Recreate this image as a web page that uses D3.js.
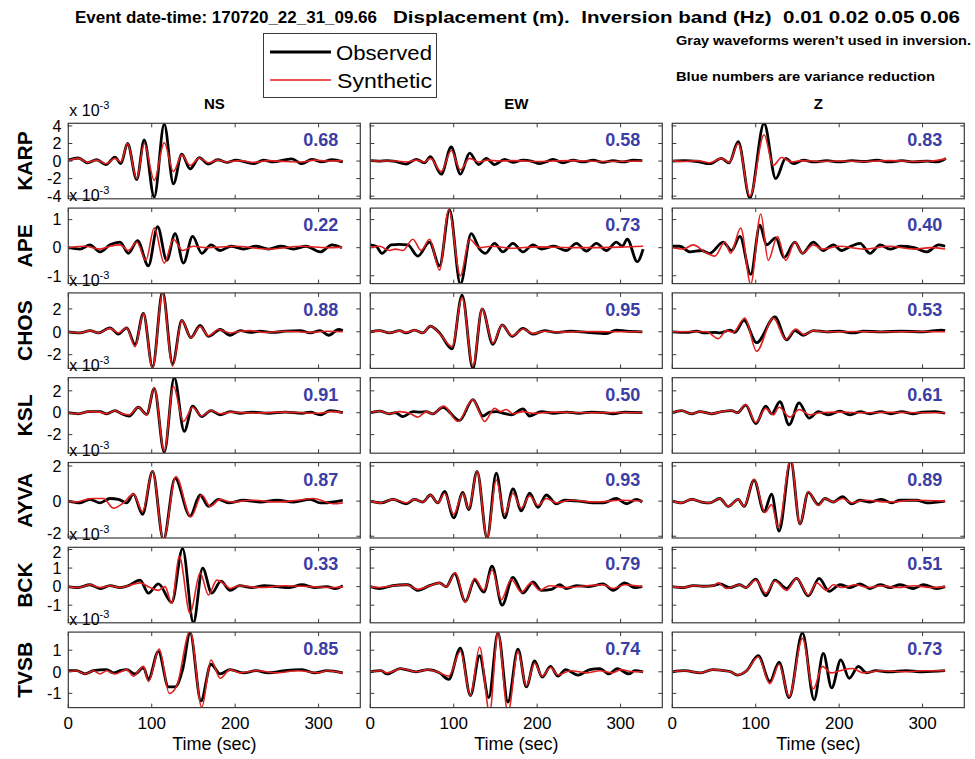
<!DOCTYPE html>
<html><head><meta charset="utf-8">
<script src="https://cdn.jsdelivr.net/npm/d3@7"></script>
<style>
body{margin:0;background:#fff}
svg{display:block}
text{font-family:"Liberation Sans",Arial,Helvetica,sans-serif}
</style>
</head><body>
<svg id="chart" width="975" height="759"></svg>
<script>
// ---------------- DATA ----------------
const stations = ["KARP","APE","CHOS","KSL","AYVA","BCK","TVSB"];
const components = ["NS","EW","Z"];
const varianceReduction = [
  [0.68,0.58,0.83],[0.22,0.73,0.40],[0.88,0.95,0.53],[0.91,0.50,0.61],
  [0.87,0.93,0.89],[0.33,0.79,0.51],[0.85,0.74,0.73]
];
const yDomains = [[-4.3,4.3],[-1.28,1.41],[-3.2,3.4],[-3.7,3.2],[-2.1,2.2],[-1.95,2.12],[-1.66,1.84]];
const yTicks = [[-4,-2,0,2,4],[-1,0,1],[-2,0,2],[-2,0,2],[-2,0,2],[-1,0,1,2],[-1,0,1]];
const xDomain = [0,350];
const xTicks = [0,100,200,300];

// time (s), displacement (x 10^-3 m)
const KARP_NS_obs=[[0,0.1],[12,0.35],[23,-0.2],[34,0.15],[45,-0.4],[56,0.45],[63,-0.3],[71,2.0],[82,-2.1],[91,2.4],[103,-4.1],[115,4.2],[126,-2.6],[136,0.8],[146,-0.9],[157,0.4],[168,-0.35],[179,0.15],[190,-0.15],[201,0.1],[212,-0.1],[222,-0.3],[234,0.1],[246,-0.1],[258,0.1],[268,0.25],[280,-0.3],[292,0.2],[304,-0.1],[316,0.15],[329,-0.1]];
const KARP_NS_syn=[[0,0.05],[12,0.3],[23,-0.15],[34,0.1],[45,-0.3],[56,0.3],[63,-0.1],[71,2.0],[82,-2.0],[91,2.0],[103,-2.2],[115,2.1],[126,-1.2],[136,0.7],[146,-0.5],[157,0.35],[168,-0.2],[179,0.1],[190,-0.1],[205,0.05],[222,-0.15],[240,0.05],[260,-0.05],[280,-0.1],[295,0.1],[310,0],[329,0.05]];
const KARP_EW_obs=[[0,0.05],[10,0],[20,0.05],[30,-0.05],[43,-0.35],[55,0.2],[65,-0.2],[72,0.5],[85,-1.5],[97,1.6],[108,-1.5],[119,0.9],[130,-0.4],[139,0.3],[149,-0.4],[161,0.2],[171,-0.15],[183,0.1],[193,0],[203,-0.3],[213,0],[219,0.2],[231,-0.2],[243,0.1],[255,-0.1],[267,0.1],[279,-0.15],[291,0.05],[303,-0.1],[315,0.1],[326,0.05]];
const KARP_EW_syn=[[0,0],[30,0],[43,-0.1],[55,0.1],[65,-0.1],[72,0.3],[85,-1.2],[97,1.2],[108,-1.0],[119,0.3],[130,-0.1],[140,0.1],[155,0],[170,0.05],[200,-0.05],[240,0.05],[280,-0.05],[326,0]];
const KARP_Z_obs=[[0,0],[15,0.05],[30,-0.05],[45,-0.3],[59,0.3],[68,-0.2],[79,2.2],[93,-4.2],[110,4.3],[124,-2.0],[136,0.3],[145,-0.3],[157,0.1],[170,-0.1],[185,0.05],[200,-0.1],[215,0.05],[230,-0.05],[245,0.1],[260,-0.1],[275,0.05],[290,-0.1],[305,0],[318,-0.1],[328,0.3]];
const KARP_Z_syn=[[0,0.05],[15,-0.05],[30,0.05],[45,-0.2],[59,0.3],[68,-0.15],[79,2.0],[93,-4.0],[110,3.0],[121,-0.5],[131,0.4],[143,-0.1],[155,0.05],[175,-0.05],[200,0],[230,-0.05],[260,0.05],[290,-0.05],[310,0],[328,0.25]];

const APE_NS_obs=[[0,0],[14,-0.05],[26,0.1],[38,-0.15],[50,0.1],[62,0.2],[72,-0.2],[83,0.25],[96,-0.65],[107,0.75],[118,-0.45],[128,0.5],[138,-0.55],[149,0.4],[160,-0.2],[171,0.1],[182,-0.1],[195,0.05],[210,-0.05],[225,0.05],[240,-0.05],[255,0.05],[270,-0.05],[285,0.05],[302,-0.15],[316,0.1],[328,0]];
const APE_NS_syn=[[0,0],[20,0.05],[38,-0.05],[50,0.05],[62,0.1],[72,-0.1],[82,0.2],[93,-0.45],[103,0.7],[115,-0.55],[126,0.3],[137,-0.1],[150,0.05],[165,0],[200,0.05],[240,-0.05],[280,0.05],[310,0],[328,0.02]];
const APE_EW_obs=[[0,0.1],[7,0.05],[14,-0.2],[25,0.1],[35,0.12],[45,0.1],[57,-0.3],[71,0.2],[83,-0.65],[95,1.35],[108,-1.3],[121,0.5],[131,-0.05],[138,-0.2],[149,0.15],[159,-0.15],[171,0.15],[183,-0.15],[195,0.1],[205,-0.05],[220,0.05],[235,-0.1],[247,0.15],[259,-0.12],[271,0.15],[283,-0.1],[295,0.2],[302,0.05],[308,0.3],[320,-0.5],[327,-0.05]];
const APE_EW_syn=[[0,0],[11,0.05],[23,-0.1],[30,-0.05],[39,-0.1],[51,0.3],[61,-0.1],[71,0.3],[83,-0.8],[94,1.35],[108,-1.0],[119,0.3],[131,0],[145,0.05],[170,-0.02],[200,0.03],[250,0],[300,0.02],[327,0.05]];
const APE_Z_obs=[[0,0.05],[9,0.05],[21,-0.15],[35,-0.1],[45,-0.2],[61,0.2],[71,-0.1],[81,0.4],[94,-0.95],[105,0.8],[113,0.1],[124,0.35],[134,-0.35],[147,0.2],[156,-0.2],[169,0.2],[181,-0.1],[193,0.1],[203,-0.1],[214,0.05],[225,0.15],[237,-0.2],[249,0.1],[261,-0.05],[273,0.05],[290,0],[305,-0.15],[319,0.1],[327,0.05]];
const APE_Z_syn=[[0,0],[13,-0.05],[25,0.1],[39,-0.15],[51,-0.3],[63,0.2],[70,-0.2],[82,0.7],[94,-1.3],[106,1.2],[115,-0.45],[126,0.4],[136,-0.45],[147,0.2],[156,-0.2],[169,0.1],[180,-0.05],[200,0.05],[230,-0.05],[260,0.05],[290,-0.05],[310,0],[327,-0.05]];

const CHOS_NS_obs=[[0,0],[14,-0.1],[26,0.1],[36,-0.1],[50,0.35],[60,-0.2],[70,0.35],[80,-1.1],[90,1.6],[101,-3.1],[113,3.5],[125,-2.8],[136,1.0],[147,-0.5],[158,0.55],[168,-0.4],[182,0.2],[194,-0.3],[206,0.1],[218,-0.05],[230,0.05],[245,-0.05],[260,0.05],[278,0.1],[290,-0.1],[302,0.1],[312,-0.3],[324,0.2],[329,0.1]];
const CHOS_NS_syn=[[0,0],[14,-0.1],[26,0.1],[36,-0.1],[50,0.3],[60,-0.1],[70,0.35],[80,-1.3],[90,1.6],[101,-3.2],[113,3.4],[125,-3.0],[136,1.0],[147,-0.5],[158,0.45],[168,-0.35],[180,0.2],[194,-0.1],[206,0.05],[218,0.1],[235,-0.05],[260,0.05],[290,-0.05],[310,0.05],[329,0]];
const CHOS_EW_obs=[[0,0],[11,0.1],[23,-0.1],[35,0.1],[43,-0.1],[53,0.15],[63,-0.1],[72,0.5],[83,-0.1],[98,-1.5],[110,3.2],[123,-3.2],[134,2.0],[147,-1.1],[158,0.6],[170,-0.4],[183,0.3],[195,-0.2],[209,0.1],[222,-0.05],[240,0.05],[260,-0.05],[283,-0.15],[295,0.15],[307,0.05],[326,0]];
const CHOS_EW_syn=[[0,0],[11,0.08],[23,-0.08],[35,0.08],[43,-0.05],[53,0.15],[63,-0.1],[72,0.5],[83,-0.15],[98,-1.3],[110,3.0],[123,-3.0],[134,2.0],[147,-1.0],[158,0.6],[170,-0.35],[183,0.25],[195,-0.15],[209,0.05],[230,-0.03],[260,0.03],[290,0],[326,0]];
const CHOS_Z_obs=[[0,0],[17,-0.05],[29,0.05],[39,-0.1],[51,-0.05],[57,-0.1],[69,0.15],[75,-0.05],[86,1.0],[101,-0.95],[123,1.3],[137,-0.7],[147,0.1],[157,-0.3],[169,0.1],[185,0],[200,0.05],[217,-0.1],[229,0.05],[250,0],[275,0.05],[300,0],[323,0.15],[327,0.1]];
const CHOS_Z_syn=[[0,0],[30,0.02],[41,0],[55,-0.6],[65,0.1],[73,-0.05],[87,1.2],[101,-1.7],[121,1.2],[136,-0.65],[148,0.25],[158,-0.25],[169,0.1],[185,0],[220,0.02],[260,0],[300,0.02],[327,0]];

const KSL_NS_obs=[[0,0],[12,-0.1],[24,0.1],[38,0.1],[46,-0.1],[56,0.2],[64,-0.1],[73,-0.3],[84,0.5],[94,-0.15],[103,2.2],[115,-3.6],[127,3.2],[139,-1.7],[149,0.6],[160,-0.35],[171,0.2],[182,-0.2],[194,0.1],[206,-0.05],[220,0.05],[240,-0.05],[260,0.05],[280,-0.05],[290,0.05],[302,-0.2],[314,0.2],[329,0]];
const KSL_NS_syn=[[0,0],[12,-0.1],[24,0.1],[38,0.05],[46,-0.1],[56,0.2],[64,-0.1],[73,-0.2],[84,0.5],[94,-0.2],[103,2.3],[115,-3.5],[126,2.4],[138,-0.8],[149,0.5],[160,-0.3],[171,0.2],[182,-0.1],[195,0.05],[220,-0.03],[260,0.05],[300,-0.05],[315,0.1],[329,0]];
const KSL_EW_obs=[[0,0],[11,0.15],[23,-0.1],[30,0],[39,-0.35],[51,0.1],[60,0.05],[67,0.1],[75,-0.1],[87,0.5],[107,-0.7],[123,1.2],[135,-0.3],[143,0.05],[151,0.1],[160,-0.05],[169,-0.2],[183,0.35],[191,-0.3],[205,0.1],[220,-0.05],[235,0.05],[250,-0.05],[265,0.05],[280,0],[291,-0.1],[305,0.05],[326,0]];
const KSL_EW_syn=[[0,0],[11,0.15],[23,-0.1],[35,0.1],[47,-0.05],[57,-0.4],[67,0.1],[75,-0.1],[88,0.6],[105,-0.8],[123,1.2],[137,-0.8],[149,0.4],[156,0.1],[163,0.3],[171,-0.1],[183,0.1],[195,-0.05],[220,0.05],[260,0],[300,0.02],[326,0]];
const KSL_Z_obs=[[0,0],[11,0.2],[23,-0.1],[33,0.1],[47,-0.1],[59,0.1],[71,0.2],[78,0.0],[88,0.7],[100,-1.0],[112,0.6],[119,-0.1],[129,1.0],[140,-1.1],[152,0.9],[164,-0.5],[175,0.1],[187,-0.2],[201,0.15],[213,-0.2],[225,0.1],[237,-0.1],[250,0.1],[262,-0.1],[275,0.1],[288,-0.1],[300,0.05],[315,0.1],[327,-0.05]];
const KSL_Z_syn=[[0,0],[11,0.2],[23,-0.1],[33,0.1],[47,-0.1],[59,0.1],[71,0.2],[78,0.0],[88,0.75],[100,-0.9],[112,0.4],[121,-0.2],[128,0.5],[141,-0.4],[152,0.3],[165,-0.2],[177,0],[200,0.05],[230,0],[260,0.03],[300,0],[327,0]];

const AYVA_NS_obs=[[0,0],[14,-0.1],[26,0.1],[38,-0.1],[50,0.15],[60,0.1],[70,-0.1],[78,0.4],[89,-0.75],[101,1.7],[114,-2.2],[128,1.3],[146,-0.85],[158,0.35],[168,-0.3],[180,0.1],[192,-0.1],[210,0.05],[230,-0.05],[250,0.05],[270,-0.05],[290,0.1],[302,-0.1],[318,-0.05],[329,0.05]];
const AYVA_NS_syn=[[0,0],[10,-0.05],[22,0.1],[28,0.15],[42,0.15],[54,-0.4],[66,-0.1],[78,0.4],[89,-0.6],[101,1.7],[114,-2.2],[129,1.4],[147,-0.9],[160,0.35],[170,-0.3],[182,0.1],[195,-0.05],[220,0.05],[250,-0.05],[275,0.05],[294,0.15],[318,-0.15],[329,-0.1]];
const AYVA_EW_obs=[[0,0],[13,-0.1],[27,0.1],[43,-0.15],[53,0.1],[63,-0.05],[72,0.35],[81,-0.1],[89,0.55],[100,-0.95],[111,0.5],[118,-0.5],[128,1.7],[140,-2.1],[151,1.6],[161,-0.95],[171,0.7],[181,-0.55],[191,0.45],[201,-0.35],[211,0.35],[223,-0.15],[233,0.05],[250,0],[267,-0.1],[279,-0.1],[295,0.15],[307,-0.15],[319,0.1],[326,-0.05]];
const AYVA_EW_syn=[[0,0],[13,-0.1],[27,0.1],[43,-0.1],[53,0.1],[63,-0.05],[72,0.35],[81,-0.1],[89,0.45],[100,-0.75],[111,0.45],[118,-0.45],[128,1.7],[140,-2.1],[151,1.2],[161,-0.75],[171,0.45],[181,-0.4],[191,0.3],[201,-0.25],[211,0.15],[223,-0.1],[240,0.05],[270,-0.05],[300,0.05],[326,0]];
const AYVA_Z_obs=[[0,0],[11,-0.1],[23,0.1],[35,-0.05],[45,-0.1],[57,0.15],[67,-0.3],[79,0.1],[86,-0.3],[98,1.2],[110,-0.6],[119,0.4],[128,-1.7],[142,2.3],[153,-1.3],[163,0.5],[175,-0.2],[183,0.15],[193,-0.05],[204,0.25],[215,-0.15],[225,0.05],[237,-0.05],[251,0.1],[263,-0.1],[273,0.05],[293,0.05],[305,-0.1],[327,0]];
const AYVA_Z_syn=[[0,0],[11,-0.1],[23,0.1],[35,-0.05],[45,-0.1],[57,0.15],[67,-0.3],[79,0.1],[86,-0.3],[98,1.25],[111,-0.65],[119,-0.2],[127,-1.5],[142,2.4],[153,-1.3],[163,0.55],[175,-0.25],[183,0.15],[193,-0.05],[204,0.15],[215,-0.1],[230,0.05],[260,-0.05],[290,0.05],[327,0]];

const BCK_NS_obs=[[0,0],[12,-0.05],[26,0.1],[38,-0.1],[50,0.05],[62,-0.05],[72,0.05],[86,0.35],[96,-0.35],[108,0.15],[124,-0.85],[137,2.05],[150,-1.95],[161,1.0],[172,-0.35],[183,0.3],[194,-0.2],[205,0.05],[220,-0.05],[235,0.05],[250,0],[265,-0.05],[280,0.1],[295,-0.05],[310,0],[320,-0.1],[329,0.05]];
const BCK_NS_syn=[[0,0],[12,-0.05],[26,0.1],[38,-0.05],[50,0.05],[62,-0.05],[72,0.05],[86,0.2],[98,-0.05],[108,-0.2],[116,0.0],[124,-0.9],[133,1.65],[146,-1.45],[158,0.75],[168,-0.45],[178,0.35],[188,0.1],[194,-0.1],[205,0.05],[230,-0.05],[260,0.05],[290,0],[320,-0.05],[329,0]];
const BCK_EW_obs=[[0,0],[11,-0.1],[27,0.05],[41,0.1],[45,0.1],[57,-0.2],[71,0.05],[83,0.2],[91,0],[101,0.7],[114,-0.8],[125,0.35],[136,-0.3],[146,1.1],[158,-1.0],[171,0.5],[183,-0.35],[195,0.25],[205,-0.2],[217,-0.15],[227,0.1],[235,-0.1],[247,0.05],[262,0],[279,0.15],[291,-0.2],[305,0.2],[317,-0.05],[326,0]];
const BCK_EW_syn=[[0,0],[11,-0.05],[27,0.05],[43,0.1],[57,-0.15],[71,0.05],[83,0.2],[91,0],[102,0.75],[114,-0.85],[125,0.45],[136,-0.2],[146,0.9],[157,-0.7],[169,0.4],[181,-0.3],[193,0.2],[203,-0.2],[215,0.05],[235,-0.05],[260,0.05],[279,0.1],[291,-0.1],[305,0.1],[326,0]];
const BCK_Z_obs=[[0,0],[13,-0.05],[25,0.05],[37,0.02],[49,0.05],[57,0.15],[69,-0.05],[81,0.1],[88,-0.05],[100,0.4],[112,-0.5],[123,0.35],[137,-0.1],[149,0.45],[163,-0.5],[176,0.45],[188,-0.25],[201,0.1],[213,-0.05],[225,0.15],[237,-0.1],[249,0.1],[261,-0.05],[273,0.1],[289,-0.1],[301,0.1],[317,-0.1],[327,0]];
const BCK_Z_syn=[[0,0],[13,-0.05],[25,0.05],[37,0.02],[49,0.05],[55,0.2],[65,-0.1],[81,0.1],[88,-0.05],[100,0.35],[112,-0.35],[123,0.3],[137,-0.2],[149,0.45],[163,-0.45],[173,0.2],[185,-0.2],[193,0.1],[203,-0.05],[220,0.1],[235,-0.05],[250,0.05],[270,-0.05],[290,0.05],[310,-0.05],[327,0]];

const TVSB_NS_obs=[[0,0.05],[10,0.05],[20,-0.1],[30,0.05],[46,0.1],[54,-0.05],[62,0.05],[70,0.1],[80,-0.1],[90,0.2],[96,-0.35],[108,0.95],[120,-0.7],[128,-0.7],[137,0.1],[146,1.8],[159,-1.35],[171,0.35],[182,-0.1],[194,0.1],[210,-0.05],[225,0.05],[240,-0.05],[260,0.05],[280,0.1],[295,-0.05],[310,0.05],[329,-0.05]];
const TVSB_NS_syn=[[0,0],[10,0.05],[20,-0.1],[30,0.05],[38,-0.1],[46,0.05],[56,-0.1],[66,0.05],[70,0.1],[78,-0.2],[90,0.25],[96,-0.45],[109,1.05],[121,-1.0],[130,-0.65],[146,1.9],[160,-1.65],[171,0.55],[182,-0.3],[194,0.1],[206,-0.05],[225,0.05],[250,-0.05],[275,0.05],[300,-0.05],[310,0.05],[329,-0.05]];
const TVSB_EW_obs=[[0,0],[13,0.05],[20,-0.1],[36,0.15],[55,0],[69,0.1],[83,-0.05],[94,-0.35],[108,1.1],[120,-1.1],[131,0.75],[142,-1.2],[153,1.8],[165,-1.4],[177,1.05],[187,-0.7],[197,0.5],[206,-0.25],[216,0.25],[225,-0.2],[234,0.1],[249,-0.15],[263,0.1],[275,0.15],[286,-0.1],[296,0.15],[310,-0.1],[317,0.05],[327,0]];
const TVSB_EW_syn=[[0,0],[13,0.05],[20,-0.05],[38,0.15],[55,0],[69,0.1],[80,0],[94,-0.2],[108,0.95],[120,-1.1],[131,1.15],[143,-1.9],[153,1.85],[165,-1.9],[177,0.95],[187,-0.65],[197,0.4],[206,-0.2],[216,0.2],[225,-0.15],[240,0.05],[260,-0.05],[275,0.05],[290,-0.05],[300,0.1],[315,0],[327,0]];
const TVSB_Z_obs=[[0,0],[15,0.05],[34,-0.05],[48,0.1],[62,0.05],[70,0],[78,-0.15],[89,0.05],[103,0.75],[117,-0.45],[128,0.45],[140,-1.2],[156,1.8],[170,-1.3],[181,0.85],[191,-0.75],[202,0.55],[212,-0.3],[223,0.25],[233,-0.05],[244,0.05],[260,0],[280,0.05],[300,0],[327,0.05]];
const TVSB_Z_syn=[[0,0],[15,0.05],[34,-0.05],[48,0.1],[62,0.05],[70,0],[78,-0.15],[89,0.05],[103,0.7],[117,-0.55],[128,0.35],[140,-1.15],[156,1.55],[169,-0.8],[180,0.25],[190,-0.05],[201,0.05],[216,0.15],[229,-0.05],[250,0.05],[280,0],[300,0.05],[327,0.05]];

const observed = [
  [KARP_NS_obs,KARP_EW_obs,KARP_Z_obs],[APE_NS_obs,APE_EW_obs,APE_Z_obs],[CHOS_NS_obs,CHOS_EW_obs,CHOS_Z_obs],
  [KSL_NS_obs,KSL_EW_obs,KSL_Z_obs],[AYVA_NS_obs,AYVA_EW_obs,AYVA_Z_obs],[BCK_NS_obs,BCK_EW_obs,BCK_Z_obs],[TVSB_NS_obs,TVSB_EW_obs,TVSB_Z_obs]
];
const synthetic = [
  [KARP_NS_syn,KARP_EW_syn,KARP_Z_syn],[APE_NS_syn,APE_EW_syn,APE_Z_syn],[CHOS_NS_syn,CHOS_EW_syn,CHOS_Z_syn],
  [KSL_NS_syn,KSL_EW_syn,KSL_Z_syn],[AYVA_NS_syn,AYVA_EW_syn,AYVA_Z_syn],[BCK_NS_syn,BCK_EW_syn,BCK_Z_syn],[TVSB_NS_syn,TVSB_EW_syn,TVSB_Z_syn]
];

// ---------------- LAYOUT ----------------
const colLeft0=68.3, colPitch=302, colW=292;
const rowTop0=123.3, rowPitch=84.8, rowH=75.5;
const BLUE="#3b3ea6", RED="#e2201f", FRAME="#3a3a3a";

const svg=d3.select("#chart");
const defs=svg.append("defs");

// titles
svg.append("text").attr("x",75).attr("y",23).attr("font-size",16).attr("font-weight","bold")
  .attr("textLength",302).attr("lengthAdjust","spacingAndGlyphs").text("Event date-time: 170720_22_31_09.66");
svg.append("text").attr("x",393).attr("y",23).attr("font-size",16).attr("font-weight","bold")
  .attr("textLength",567).attr("lengthAdjust","spacingAndGlyphs").attr("xml:space","preserve")
  .text("Displacement (m).  Inversion band (Hz)  0.01 0.02 0.05 0.06");
svg.append("text").attr("x",676).attr("y",45).attr("font-size",12.5).attr("font-weight","bold")
  .attr("textLength",295).attr("lengthAdjust","spacingAndGlyphs").text("Gray waveforms weren’t used in inversion.");
svg.append("text").attr("x",676).attr("y",81).attr("font-size",12.5).attr("font-weight","bold")
  .attr("textLength",259).attr("lengthAdjust","spacingAndGlyphs").text("Blue numbers are variance reduction");

// legend
const lg=svg.append("g");
lg.append("rect").attr("x",263.5).attr("y",33.5).attr("width",173).attr("height",64).attr("fill","#fff").attr("stroke",FRAME).attr("stroke-width",1);
lg.append("line").attr("x1",270).attr("x2",331).attr("y1",52).attr("y2",52).attr("stroke","#000").attr("stroke-width",2.8);
lg.append("line").attr("x1",270).attr("x2",331).attr("y1",80).attr("y2",80).attr("stroke",RED).attr("stroke-width",1.6);
lg.append("text").attr("x",336).attr("y",60).attr("font-size",21).attr("textLength",96).attr("lengthAdjust","spacingAndGlyphs").text("Observed");
lg.append("text").attr("x",337).attr("y",88).attr("font-size",21).attr("textLength",95).attr("lengthAdjust","spacingAndGlyphs").text("Synthetic");

// column titles
components.forEach((c,j)=>{
  svg.append("text").attr("x",colLeft0+j*colPitch+colW/2).attr("y",109).attr("text-anchor","middle")
    .attr("font-size",15).attr("font-weight","bold").text(c);
});

stations.forEach((st,i)=>{
  const top=rowTop0+i*rowPitch, bot=top+rowH;
  const y=d3.scaleLinear().domain(yDomains[i]).range([bot,top]);
  svg.append("text").attr("transform",`translate(32,${top+rowH/2}) rotate(-90)`).attr("text-anchor","middle")
    .attr("font-size",21).attr("font-weight","bold").text(st);
  const ex=svg.append("text").attr("x",colLeft0+1).attr("y",top-7).attr("font-size",16);
  ex.append("tspan").text("x 10");
  ex.append("tspan").attr("dy",-7).attr("font-size",11).text("-3");

  components.forEach((c,j)=>{
    const left=colLeft0+j*colPitch, right=left+colW;
    const x=d3.scaleLinear().domain(xDomain).range([left,right]);
    const g=svg.append("g");
    const cid=`clip${i}_${j}`;
    defs.append("clipPath").attr("id",cid).append("rect").attr("x",left).attr("y",top).attr("width",colW).attr("height",rowH);
    g.append("rect").attr("x",left).attr("y",top).attr("width",colW).attr("height",rowH).attr("fill","#fff");
    yTicks[i].forEach(v=>{
      const yy=y(v);
      g.append("line").attr("x1",left).attr("x2",left+4).attr("y1",yy).attr("y2",yy).attr("stroke",FRAME);
      g.append("line").attr("x1",right-4).attr("x2",right).attr("y1",yy).attr("y2",yy).attr("stroke",FRAME);
    });
    xTicks.forEach(t=>{
      const xx=x(t);
      g.append("line").attr("x1",xx).attr("x2",xx).attr("y1",bot).attr("y2",bot-4).attr("stroke",FRAME);
      g.append("line").attr("x1",xx).attr("x2",xx).attr("y1",top).attr("y2",top+4).attr("stroke",FRAME);
    });
    const line=d3.line().x(d=>x(d[0])).y(d=>y(d[1])).curve(d3.curveMonotoneX);
    const lines=g.append("g").attr("clip-path",`url(#${cid})`);
    lines.append("path").attr("d",line(observed[i][j])).attr("fill","none").attr("stroke","#000")
      .attr("stroke-width",2.8).attr("stroke-linejoin","round");
    lines.append("path").attr("d",line(synthetic[i][j])).attr("fill","none").attr("stroke",RED)
      .attr("stroke-width",1.6).attr("stroke-linejoin","round");
    g.append("rect").attr("x",left).attr("y",top).attr("width",colW).attr("height",rowH)
      .attr("fill","none").attr("stroke",FRAME).attr("stroke-width",1.2);
    g.append("text").attr("x",right-22).attr("y",top+23).attr("text-anchor","end").attr("font-size",18)
      .attr("font-weight","bold").attr("fill",BLUE).text(varianceReduction[i][j].toFixed(2));
    if(j===0){
      const dom=yDomains[i];
      yTicks[i].forEach(v=>{
        // nudge labels that sit at the very edge of a panel so neighbouring rows don't collide
        let yy=y(v);
        if(v===yTicks[i][0] && Math.abs(v-dom[0])<0.15) yy-=3;
        if(v===yTicks[i][yTicks[i].length-1] && Math.abs(dom[1]-v)<0.15) yy+=3;
        g.append("text").attr("x",left-7).attr("y",yy).attr("dy","0.36em").attr("text-anchor","end")
          .attr("font-size",16).text(v);
      });
    }
    if(i===stations.length-1){
      xTicks.forEach(t=>{
        g.append("text").attr("x",x(t)).attr("y",bot+21).attr("text-anchor","middle").attr("font-size",17).text(t);
      });
      g.append("text").attr("x",(left+right)/2).attr("y",bot+42).attr("text-anchor","middle").attr("font-size",18).text("Time (sec)");
    }
  });
});
</script>
</body></html>
